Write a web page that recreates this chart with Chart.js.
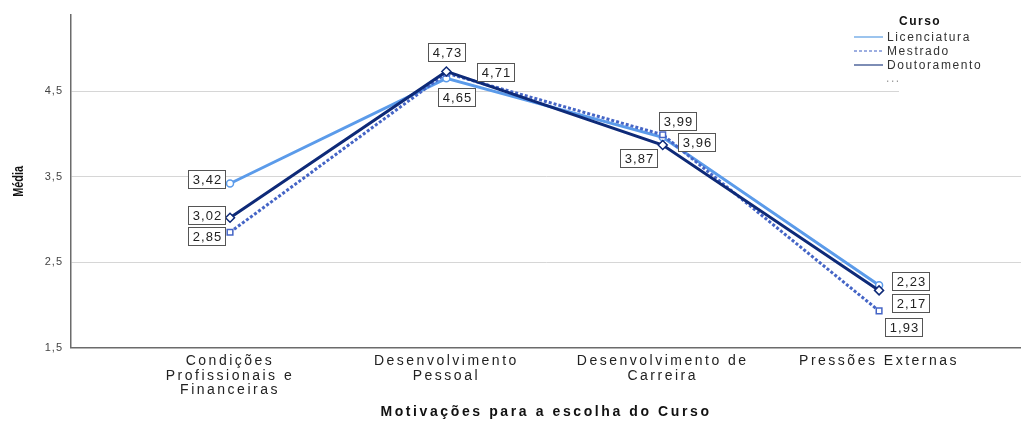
<!DOCTYPE html>
<html><head><meta charset="utf-8">
<script src="https://cdn.jsdelivr.net/npm/chart.js@4.4.1/dist/chart.umd.min.js"></script>
<style>html,body{margin:0;padding:0;background:#fff}#wrap{width:1021px;height:423px;position:relative}</style>
</head><body><div id="wrap"><canvas id="c"></canvas></div>
<script>
// ---- data ----
const categories = [["Condições","Profissionais e","Financeiras"],["Desenvolvimento","Pessoal"],["Desenvolvimento de","Carreira"],["Pressões Externas"]];
const seriesNames = ["Licenciatura","Mestrado","Doutoramento"];
const licenciatura = [3.42, 4.65, 3.96, 2.23];
const mestrado     = [2.85, 4.71, 3.99, 1.93];
const doutoramento = [3.02, 4.73, 3.87, 2.17];
const yTickValues = [1.5, 2.5, 3.5, 4.5];
const xTitle = "Motivações para a escolha do Curso";
const yTitle = "Média";
const legendTitle = "Curso";

// ---- styling (not data) ----
const FONT = "'Liberation Sans', Arial, sans-serif";
const colors = ['#5b9bea', '#4565c6', '#0e2a78'];
const legendColors = ['#9cc4ee', '#3d5fc4', '#7d8db5'];
const labelOffsets = [
  [[-24,-4],[10,19],[34,5],[31,-4]],
  [[-24,4],[49,-1.5],[15,-13.5],[24,16]],
  [[-24,-3],[0,-19],[-24,12.5],[31,13]]
];
const fmt = v => v.toFixed(2).replace('.', ',');
const toPts = arr => arr.map((v, i) => ({x: i + 1, y: v}));

function spaced(scale, method, spacing, squeezeY) {
  scale[method] = function (a) {
    const ctx = this.ctx;
    ctx.save();
    ctx.letterSpacing = spacing;
    if (squeezeY) {
      const cy = (this.top + this.bottom) / 2;
      ctx.translate(0, cy); ctx.scale(1, squeezeY); ctx.translate(0, -cy);
    }
    Chart.Scale.prototype[method].call(this, a);
    ctx.restore();
  };
}

const overlayPlugin = {
  id: 'overlay',
  beforeDatasetsDraw(chart) {
    const ctx = chart.ctx;
    ctx.save();
    ctx.fillStyle = '#fff';
    ctx.fillRect(899, 0, 122, 93);
    ctx.restore();
  },
  afterDatasetsDraw(chart) {
    const ctx = chart.ctx;
    ctx.save();
    ctx.letterSpacing = '1px';
    ctx.font = '13px ' + FONT;
    ctx.textAlign = 'center';
    ctx.textBaseline = 'middle';
    chart.data.datasets.forEach((ds, di) => {
      const meta = chart.getDatasetMeta(di);
      meta.data.forEach((pt, i) => {
        const off = labelOffsets[di][i];
        const cx = pt.x + off[0], cy = pt.y + off[1];
        const w = 37, h = 18;
        const x0 = Math.round(cx - w / 2) + 0.5, y0 = Math.round(cy - h / 2) + 0.5;
        ctx.fillStyle = '#fff';
        ctx.fillRect(x0, y0, w, h);
        ctx.strokeStyle = '#555';
        ctx.lineWidth = 1;
        ctx.strokeRect(x0, y0, w, h);
        ctx.fillStyle = '#222';
        ctx.fillText(fmt(ds.data[i].y), x0 + w / 2 + 0.5, y0 + h / 2 + 1);
      });
    });
    // legend
    ctx.textAlign = 'left';
    ctx.letterSpacing = '1.5px';
    ctx.font = 'bold 12px ' + FONT;
    ctx.fillStyle = '#111';
    ctx.fillText(legendTitle, 899, 22);
    ctx.font = '12px ' + FONT;
    ctx.letterSpacing = '1.6px';
    const rows = [37, 51, 65];
    seriesNames.forEach((n, i) => {
      ctx.beginPath();
      ctx.strokeStyle = legendColors[i];
      ctx.lineWidth = i === 1 ? 1.2 : 2;
      ctx.setLineDash(i === 1 ? [3, 2] : []);
      ctx.moveTo(854, rows[i]);
      ctx.lineTo(883, rows[i]);
      ctx.stroke();
      ctx.setLineDash([]);
      ctx.fillStyle = '#333';
      ctx.fillText(n, 887, rows[i] + 1);
    });
    ctx.fillStyle = '#999';
    ctx.fillText('...', 886, 79);
    ctx.restore();
  }
};

new Chart(document.getElementById('c'), {
  type: 'line',
  data: {
    datasets: [
      {label: seriesNames[0], data: toPts(licenciatura), borderColor: colors[0], borderWidth: 3,
       pointStyle: 'circle', pointRadius: 3.5, pointBackgroundColor: '#fff', pointBorderColor: colors[0], pointBorderWidth: 1.5, order: 2},
      {label: seriesNames[1], data: toPts(mestrado), borderColor: colors[1], borderWidth: 3, borderDash: [3, 2],
       pointStyle: 'rect', pointRadius: 4, pointBackgroundColor: '#fff', pointBorderColor: colors[1], pointBorderWidth: 1.5, order: 1},
      {label: seriesNames[2], data: toPts(doutoramento), borderColor: colors[2], borderWidth: 3,
       pointStyle: 'rectRot', pointRadius: 4.5, pointBackgroundColor: '#fff', pointBorderColor: colors[2], pointBorderWidth: 1.5, order: 0}
    ]
  },
  options: {
    responsive: true,
    maintainAspectRatio: false,
    animation: false,
    events: [],
    layout: {autoPadding: false, padding: {top: 15, left: 0, right: 0, bottom: 0}},
    plugins: {legend: {display: false}, tooltip: {enabled: false}, title: {display: false}},
    scales: {
      x: {
        type: 'linear',
        min: 0.265, max: 4.656,
        afterBuildTicks: s => { s.ticks = categories.map((c, i) => ({value: i + 1})); },
        afterFit: s => {
          s.height = 75.3; s.paddingLeft = 0; s.paddingRight = 0;
          spaced(s, 'drawLabels', '2.5px'); spaced(s, 'drawTitle', '2.6px');
        },
        grid: {display: false, drawTicks: false},
        border: {display: true, color: '#6b6b6b', width: 1.5},
        ticks: {
          callback: v => categories[v - 1],
          color: '#222', padding: 6, maxRotation: 0, autoSkip: false,
          font: {family: FONT, size: 14, lineHeight: 1.05}
        },
        title: {display: true, text: xTitle, color: '#111',
          font: {family: FONT, size: 14, weight: 'bold', lineHeight: 1.2}, padding: {top: 0, bottom: 2}}
      },
      y: {
        min: 1.5, max: 5.39,
        afterBuildTicks: s => { s.ticks = yTickValues.map(v => ({value: v})); },
        afterFit: s => { s.width = 71; spaced(s, 'drawLabels', '1px'); spaced(s, 'drawTitle', '0px', 0.78); },
        grid: {drawTicks: false, color: c => (c.tick && c.tick.value === 1.5) ? 'rgba(0,0,0,0)' : '#d6d6d6', lineWidth: 1},
        border: {display: true, color: '#6b6b6b', width: 1.5},
        ticks: {
          callback: v => fmt(v).slice(0, 3),
          color: '#444', padding: 8,
          font: {family: FONT, size: 11}
        },
        title: {display: true, text: yTitle, color: '#111',
          font: {family: FONT, size: 14, weight: 'bold', lineHeight: 1.2},
          padding: {top: 11, bottom: 0}}
      }
    }
  },
  plugins: [overlayPlugin]
});
</script>
</body></html>
